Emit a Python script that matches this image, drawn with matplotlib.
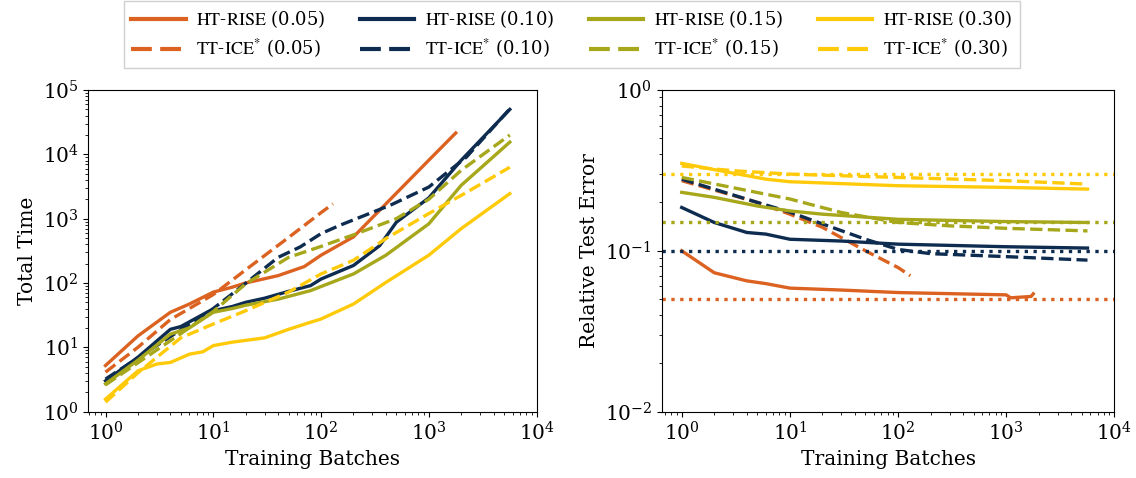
import matplotlib
matplotlib.use("Agg")
import matplotlib.pyplot as plt
from matplotlib.lines import Line2D

plt.rcParams['font.family'] = 'DejaVu Serif'
plt.rcParams['mathtext.fontset'] = 'stix'

colors = ['#DB6221', '#0D2C50', '#A7A71B', '#FFCA0A']
tols = [0.05, 0.10, 0.15, 0.30]

# total time vs batches
t_x_ht = [
    [1, 2, 4, 6, 10, 15, 20, 40, 70, 100, 200, 400, 1000, 1780],
    [1, 2, 4, 5, 9, 10, 15, 20, 30, 50, 80, 100, 200, 350, 500, 1000, 2000, 5650],
    [1, 2, 4, 6, 10, 15, 20, 40, 80, 100, 200, 400, 1000, 2000, 5650],
    [1, 2, 3, 4, 6, 8, 10, 15, 30, 50, 80, 100, 200, 400, 1000, 2000, 5650],
]
t_y_ht = [
    [5.2, 15, 35, 47, 72, 86, 100, 130, 180, 270, 520, 1700, 8100, 21500],
    [3.0, 7, 19, 21, 36, 37, 43, 50, 58, 74, 91, 115, 187, 380, 880, 2100, 8100, 50000],
    [2.7, 6.3, 16, 20, 35, 40, 45, 56, 76, 88, 138, 270, 830, 3300, 15500],
    [1.56, 4.3, 5.5, 5.8, 7.8, 8.5, 10.6, 12, 14, 19, 24.5, 27.5, 47, 102, 270, 700, 2450],
]
t_x_tt = [
    [1, 2, 4, 8, 10, 20, 50, 100, 129],
    [1, 10, 18, 40, 64, 100, 150, 440, 1000, 2240, 5650],
    [1, 10, 20, 50, 100, 200, 500, 1000, 2000, 5650],
    [1, 2, 3, 5, 10, 20, 50, 100, 200, 400, 1000, 2000, 5650],
]
t_y_tt = [
    [4.1, 10, 27, 53, 66, 160, 510, 1240, 1700],
    [3.2, 40, 86, 250, 363, 585, 790, 1620, 3100, 9100, 51000],
    [2.6, 36, 97, 250, 370, 560, 1000, 2000, 5650, 20000],
    [1.4, 4.0, 7, 14, 23, 37, 72, 138, 225, 490, 1200, 2300, 6300],
]

# relative test error vs batches
e_x_ht = [
    [1, 2, 4, 6, 10, 30, 100, 1000, 1100, 1700, 1780],
    [1, 2, 4, 6, 10, 30, 100, 1000, 5650],
    [1, 2, 5, 10, 20, 100, 1000, 5650],
    [1, 2, 6, 10, 100, 1000, 5650],
]
e_y_ht = [
    [0.1, 0.073, 0.065, 0.0625, 0.0586, 0.057, 0.055, 0.0532, 0.051, 0.052, 0.054],
    [0.186, 0.15, 0.130, 0.127, 0.118, 0.115, 0.110, 0.106, 0.104],
    [0.231, 0.215, 0.19, 0.177, 0.169, 0.157, 0.152, 0.150],
    [0.35, 0.32, 0.279, 0.269, 0.254, 0.248, 0.242],
]
e_x_tt = [
    [1, 5, 10, 20, 50, 100, 130],
    [1, 5, 10, 20, 50, 100, 200, 1000, 5650],
    [1, 10, 30, 100, 300, 1000, 5650],
    [1, 3, 10, 30, 100, 1000, 5650],
]
e_y_tt = [
    [0.273, 0.2, 0.169, 0.14, 0.1, 0.0787, 0.07],
    [0.279, 0.20, 0.174, 0.147, 0.118, 0.102, 0.096, 0.092, 0.0875],
    [0.286, 0.21, 0.173, 0.15, 0.143, 0.138, 0.133],
    [0.337, 0.315, 0.30, 0.293, 0.286, 0.273, 0.26],
]

fig = plt.figure(figsize=(11.36, 4.78), dpi=100)
ax1 = fig.add_axes([0.0777, 0.139, 0.3946, 0.6726])
ax2 = fig.add_axes([0.5825, 0.139, 0.3984, 0.6726])

lw = 2.4
for i in range(4):
    ax1.plot(t_x_ht[i], t_y_ht[i], color=colors[i], lw=lw)
    ax1.plot(t_x_tt[i], t_y_tt[i], color=colors[i], lw=lw, ls='--')

    ax2.plot(e_x_ht[i], e_y_ht[i], color=colors[i], lw=lw)
    ax2.plot(e_x_tt[i], e_y_tt[i], color=colors[i], lw=lw, ls='--')
    ax2.axhline(tols[i], color=colors[i], lw=lw, ls=':')

for ax in (ax1, ax2):
    ax.set_xscale('log')
    ax.set_yscale('log')
    ax.set_xlabel("Training Batches", fontsize=14.5)
    ax.tick_params(labelsize=14.5)

ax1.set_xlim(10 ** -0.16, 1e4)
ax2.set_xlim(10 ** -0.185, 1e4)
ax1.set_ylim(1, 1e5)
ax1.set_ylabel("Total Time", fontsize=14.5)
ax2.set_ylim(1e-2, 1)
ax2.set_ylabel("Relative Test Error", fontsize=14.5)

# legend: HT-RISE on the top row, TT-ICE* below
handles, labels = [], []
for i in range(4):
    handles.append(Line2D([], [], color=colors[i], lw=3))
    labels.append(r"$\mathrm{HT}$-$\mathrm{RISE}$" + f" ({tols[i]:.2f})")
    handles.append(Line2D([], [], color=colors[i], lw=3, dashes=(5, 2)))
    labels.append(r"$\mathrm{TT}$-$\mathrm{ICE}^{*}$" + f" ({tols[i]:.2f})")

fig.legend(handles, labels, ncol=4, loc='upper center',
           bbox_to_anchor=(0.5035, 0.997), borderaxespad=0,
           fontsize=13, handlelength=3.0, handletextpad=0.6,
           labelspacing=0.4, columnspacing=1.9, fancybox=False,
           edgecolor='#d0d0d0', framealpha=1)

fig.savefig("out.png", dpi=100)
